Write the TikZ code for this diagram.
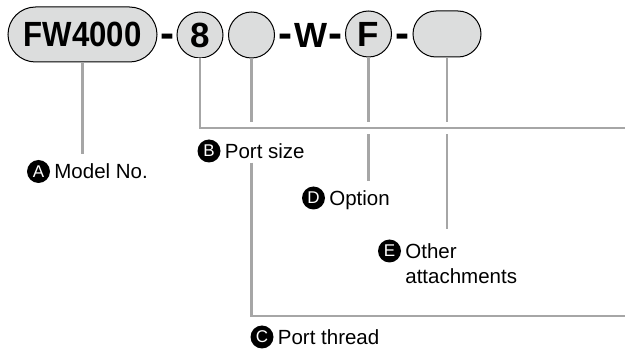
\documentclass[tikz,border=0pt]{standalone}
\usepackage{fontspec}
\setmainfont{Liberation Sans}
\usetikzlibrary{positioning}
\definecolor{partgray}{HTML}{DCDDDD}
\definecolor{leadgray}{HTML}{A6A6A6}
\newcommand\codefont{\fontsize{35}{35}\selectfont\bfseries}
\newcommand\tagfont{\fontsize{20.5}{25}\selectfont}

\begin{document}
\begin{tikzpicture}[x=1pt,y=-1pt,
	part/.style={draw=black,fill=partgray,line width=1pt,inner sep=0pt,font=\codefont},
	ring/.style={part,circle,minimum size=46pt},
	pill/.style={part,rectangle,rounded corners=23pt,minimum height=46pt},
	sep/.style={inner sep=0pt,font=\codefont,text height=25pt,text depth=0pt},
	lead/.style={draw=leadgray,line width=2.4pt},
	badge/.style={circle,fill=black,text=white,minimum size=23pt,inner sep=0pt,font=\fontsize{17}{17}\selectfont},
	tag/.style={inner sep=1pt,font=\tagfont,text height=15pt,text depth=0pt}]
	\useasboundingbox (0,0) rectangle (625,350);
	% code row
	\node[pill,minimum width=149pt,minimum height=55pt,rounded corners=27.5pt] (model) at (82.5,34.5) {\scalebox{0.89}[1]{FW4000}};
	\node[sep] (dash1) at (167,35) {\scalebox{1.2}{-}};
	\node[ring] (size) at (200,35) {8};
	\node[ring] (thread) at (251.5,35) {};
	\node[sep] (dash2) at (285,35) {\scalebox{1.2}{-}};
	\node[sep] (wtype) at (311,35) {W};
	\node[sep] (dash3) at (335,35) {\scalebox{1.2}{-}};
	\node[ring] (option) at (368.5,34) {F};
	\node[sep] (dash4) at (402,35) {\scalebox{1.2}{-}};
	\node[pill,minimum width=68pt] (extra) at (447,34) {};
	% labels
	\node[badge] (badgeA) at (38.5,171.5) {A};
	\node[tag,right=3pt of badgeA] (textA) {Model No.};
	\node[badge] (badgeB) at (209,151) {B};
	\node[tag,right=3pt of badgeB] (textB) {Port size};
	\node[badge] (badgeC) at (262,337) {C};
	\node[tag,right=3pt of badgeC] (textC) {Port thread};
	\node[badge] (badgeD) at (313.5,198) {D};
	\node[tag,right=3pt of badgeD] (textD) {Option};
	\node[badge] (badgeE) at (389.5,251) {E};
	\node[tag,right=3pt of badgeE] (textE) {Other};
	\node[tag,anchor=west] (textE2) at ([yshift=-25pt]textE.west) {attachments};
	% lead lines
	\coordinate (endA) at (82.5,154);
	\coordinate (edgeB) at (625,128);
	\coordinate (edgeC) at (625,316);
	\coordinate (endD) at (368.5,181);
	\coordinate (endE) at (447,229);
	\draw[lead] (model) -- (endA);
	\draw[lead] (option) -- (endD);
	\draw[lead] (extra) -- (endE);
	\draw[lead] (thread) -- (thread |- edgeB);
	\draw[lead] (thread |- badgeB.south) |- (edgeC);
	\draw[lead,preaction={draw=white,line width=12pt}] (size) |- (edgeB);
\end{tikzpicture}
\end{document}
